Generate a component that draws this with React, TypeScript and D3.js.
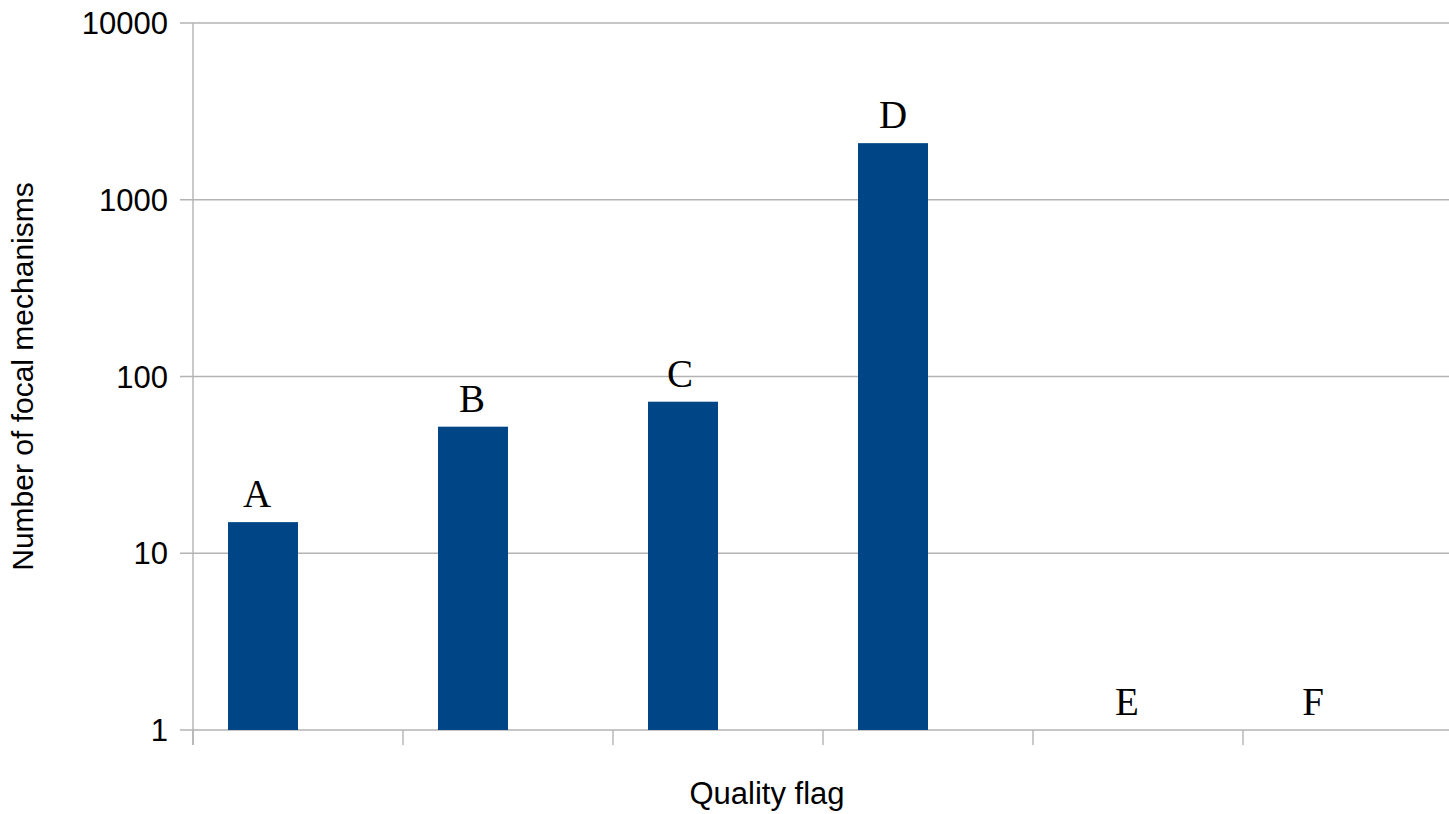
import React from "react";
import * as d3 from "d3";

// ---- data ----
const categories = ["A", "B", "C", "D", "E", "F"];
const counts: (number | null)[] = [15, 52, 72, 2090, null, null];
const series = ["Focal mechanisms", "(empty)"];
const yTicks = [1, 10, 100, 1000, 10000];
const yTitle = "Number of focal mechanisms";
const xTitle = "Quality flag";

// annotation nudges (layout only)
const labelDx = [-6, -1, -3, 0, 24, 0];

const W = 1449;
const H = 814;

export default function App() {
  const left = 193;
  const top = 23;
  const bottom = 730;
  const bandStep = 210;

  const x = d3
    .scaleBand<string>()
    .domain(categories)
    .range([left, left + bandStep * categories.length])
    .paddingInner(0)
    .paddingOuter(0);

  const xs = d3
    .scaleBand<string>()
    .domain(series)
    .range([0, x.bandwidth()])
    .paddingInner(0)
    .paddingOuter(0.5);

  const y = d3.scaleLog().domain([1, 10000]).range([bottom, top]);

  const gridColor = "#b3b3b3";
  const sans = "'Liberation Sans', Arial, sans-serif";
  const serif = "'Liberation Serif', 'Times New Roman', serif";

  const barW = xs.bandwidth();

  return (
    <svg
      width={W}
      height={H}
      style={{ position: "absolute", left: 0, top: 0, background: "#fff" }}
    >
      <rect x={0} y={0} width={W} height={H} fill="#fff" />
      {/* gridlines + y ticks */}
      {yTicks.map((t) => (
        <g key={t}>
          <line
            x1={180}
            x2={W}
            y1={y(t)}
            y2={y(t)}
            stroke={gridColor}
            strokeWidth={1.4}
          />
          <text
            x={168}
            y={y(t)}
            dy="0.36em"
            textAnchor="end"
            fontFamily={sans}
            fontSize={31}
            fill="#000"
          >
            {d3.format("d")(t)}
          </text>
        </g>
      ))}
      {/* y axis line */}
      <line
        x1={left}
        x2={left}
        y1={top}
        y2={bottom + 15}
        stroke={gridColor}
        strokeWidth={1.4}
      />
      {/* x ticks at band boundaries */}
      {categories.map((c) => (
        <line
          key={c}
          x1={x(c)!}
          x2={x(c)!}
          y1={bottom}
          y2={bottom + 15}
          stroke={gridColor}
          strokeWidth={1.4}
        />
      ))}
      {/* bars */}
      {categories.map((c, i) => {
        const v = counts[i];
        if (v == null) return null;
        const bx = x(c)! + xs(series[0])!;
        return (
          <rect
            key={c}
            x={bx}
            y={y(v)}
            width={barW}
            height={bottom - y(v)}
            fill="#004586"
          />
        );
      })}
      {/* category annotations */}
      {categories.map((c, i) => {
        const v = counts[i];
        const cx = x(c)! + xs(series[0])! + barW / 2 + labelDx[i];
        const by = v == null ? y(1) : y(v);
        return (
          <text
            key={c}
            x={cx}
            y={by - 15}
            textAnchor="middle"
            fontFamily={serif}
            fontSize={39}
            fill="#000"
          >
            {c}
          </text>
        );
      })}
      {/* axis titles */}
      <text
        x={767}
        y={804}
        textAnchor="middle"
        fontFamily={sans}
        fontSize={31}
        fill="#000"
      >
        {xTitle}
      </text>
      <text
        transform={`translate(33, ${(top + bottom) / 2}) rotate(-90)`}
        textAnchor="middle"
        fontFamily={sans}
        fontSize={30}
        fill="#000"
      >
        {yTitle}
      </text>
    </svg>
  );
}
